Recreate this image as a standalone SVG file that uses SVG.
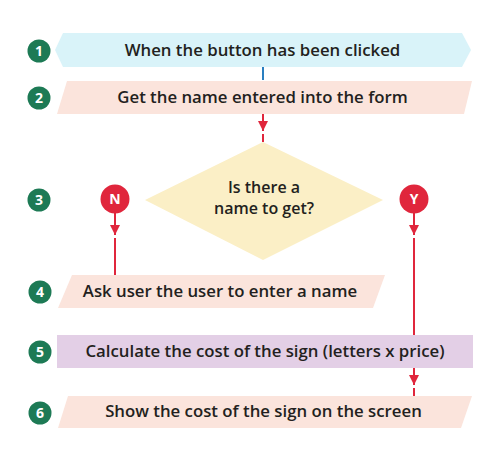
<svg xmlns="http://www.w3.org/2000/svg" width="504" height="462" viewBox="0 0 504 462">
<style>
.badge circle{fill:#1d7a55}
.badge text{fill:#fff;font-family:"Open Sans","Liberation Sans",sans-serif;font-weight:700;font-size:14px;text-anchor:middle}
.lbl{fill:#231f20;font-family:"Open Sans","Liberation Sans",sans-serif;font-weight:600;font-size:16.8px;text-anchor:middle}
.dlbl{font-size:16px}
.yn circle{fill:#e0263c}
.yn text{fill:#fff;font-family:"Open Sans","Liberation Sans",sans-serif;font-weight:700;font-size:14px;text-anchor:middle}
.red{stroke:#e0263c;stroke-width:2;fill:none}
.blue{stroke:#2a7fc0;stroke-width:2;fill:none}
</style>
<defs>
<marker id="ah" viewBox="0 0 10 10" refX="10" refY="5" markerWidth="5" markerHeight="5" markerUnits="strokeWidth" orient="auto">
<path d="M0,0 L10,5 L0,10 z" fill="#e0263c"/>
</marker>
</defs>
<rect width="504" height="462" fill="#fff"/>
<g id="connectors">
<line class="blue" x1="263" y1="67" x2="263" y2="80"/>
<line class="red" x1="263" y1="114" x2="263" y2="131" marker-end="url(#ah)"/>
<line class="red" x1="263" y1="134" x2="263" y2="142"/>
<line class="red" x1="115" y1="213" x2="115" y2="235" marker-end="url(#ah)"/>
<line class="red" x1="115" y1="238" x2="115" y2="275"/>
<line class="red" x1="414" y1="213" x2="414" y2="235" marker-end="url(#ah)"/>
<line class="red" x1="414" y1="238" x2="414" y2="335"/>
<line class="red" x1="414" y1="368" x2="414" y2="385" marker-end="url(#ah)"/>
<line class="red" x1="414" y1="388" x2="414" y2="396"/>
</g>
<g id="step1">
<g class="badge"><circle cx="39" cy="51" r="11.5"/><text x="39" y="56">1</text></g>
<polygon points="63,33 462,33 471,50 462,67 63,67 55,50" fill="#d9f3f9"/>
<text class="lbl" x="262.5" y="56">When the button has been clicked</text>
</g>
<g id="step2">
<g class="badge"><circle cx="39" cy="98" r="11.5"/><text x="39" y="103">2</text></g>
<polygon points="67,81 472,81 464,114 57,114" fill="#fbe4dc"/>
<text class="lbl" x="262.5" y="103">Get the name entered into the form</text>
</g>
<g id="step3">
<g class="badge"><circle cx="39" cy="200" r="11.5"/><text x="39" y="205">3</text></g>
<polygon points="263,142 383,200 263,260 145,200" fill="#fbefc6"/>
<text class="lbl dlbl" x="264" y="193">Is there a</text>
<text class="lbl dlbl" x="264" y="214">name to get?</text>
</g>
<g id="no" class="yn"><circle cx="115" cy="199" r="14.5"/><text x="115" y="204">N</text></g>
<g id="yes" class="yn"><circle cx="414" cy="199" r="14.5"/><text x="414" y="204">Y</text></g>
<g id="step4">
<g class="badge"><circle cx="40" cy="292" r="11.5"/><text x="40" y="297">4</text></g>
<polygon points="72,275 385,275 373,308 58,308" fill="#fbe4dc"/>
<text class="lbl" x="220" y="297">Ask user the user to enter a name</text>
</g>
<g id="step5">
<g class="badge"><circle cx="40" cy="352" r="11.5"/><text x="40" y="357">5</text></g>
<rect x="57" y="335" width="416" height="33" fill="#e3cfe6"/>
<text class="lbl" x="265" y="357">Calculate the cost of the sign (letters x price)</text>
</g>
<g id="step6">
<g class="badge"><circle cx="40" cy="413" r="11.5"/><text x="40" y="418">6</text></g>
<polygon points="68,396 472,396 461,428 58,428" fill="#fbe4dc"/>
<text class="lbl" x="263.5" y="417">Show the cost of the sign on the screen</text>
</g>
</svg>
